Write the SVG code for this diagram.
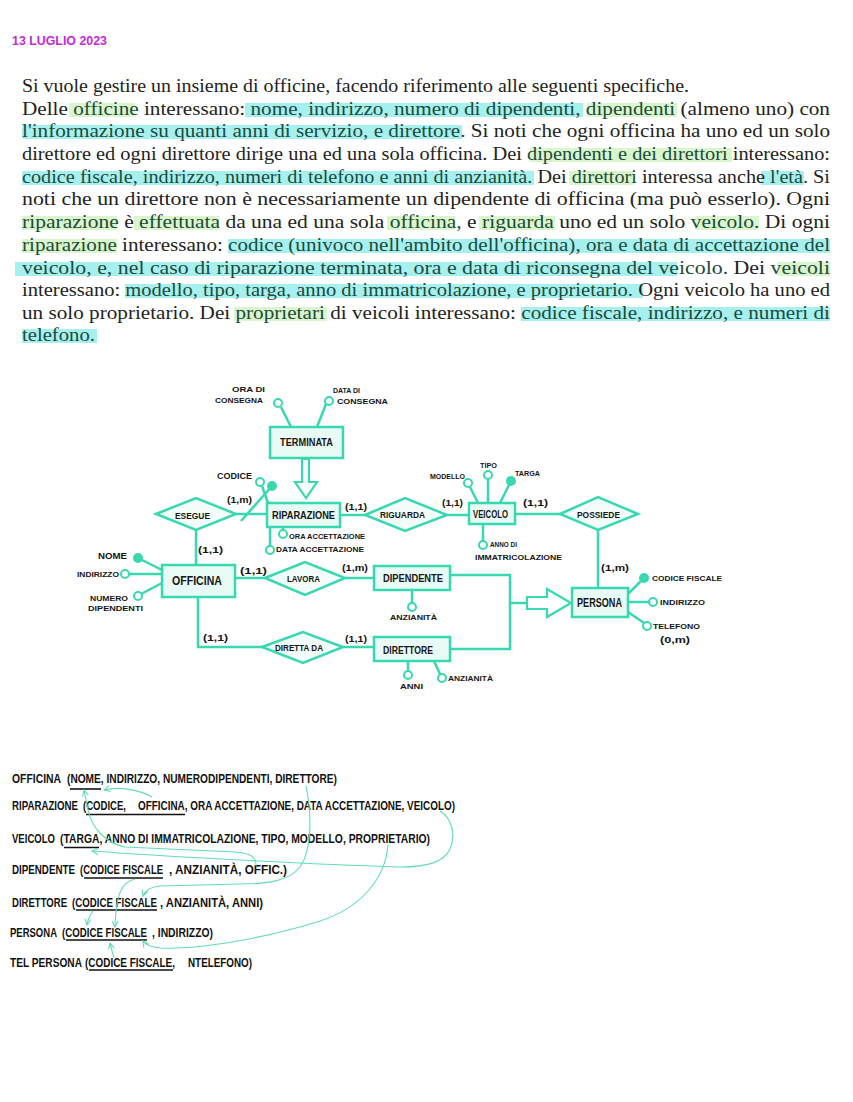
<svg xmlns="http://www.w3.org/2000/svg" width="853" height="1102" viewBox="0 0 853 1102">
<style>
.bg{fill:#ffffff}
.hc{fill:#a6f1ef}
.hg{fill:#daf6cc}
.para{font-family:"Liberation Serif","Times New Roman",serif;font-size:18.5px;fill:#232323}
.para .h{fill:#1c4a3b}
.date{font-family:"Liberation Sans",Arial,sans-serif;font-weight:bold;font-size:12px;fill:#c42ad9}
.ent rect{fill:#e9fbf5;stroke:#38d8b0;stroke-width:2.5}
.rel polygon{fill:#f2fdf9;stroke:#38d8b0;stroke-width:2.5}
.lbl{font-family:"Liberation Sans",Arial,sans-serif;font-weight:bold;fill:#151515}
.conn line,.conn polyline,.conn path{stroke:#38d8b0;stroke-width:2.5;fill:none}
.isa{fill:#ffffff;stroke:#38d8b0;stroke-width:2.2}
.att circle{fill:#ffffff;stroke:#38d8b0;stroke-width:2}
.att circle.key{fill:#38d8b0}
.sch{font-family:"Liberation Sans",Arial,sans-serif;font-weight:bold;font-size:9.6px;fill:#111}
.ul{stroke:#111;stroke-width:1.6}
.fk path{stroke:#62dcb8;stroke-width:1.1;fill:none}
</style>
<defs>
<marker id="fkh" viewBox="0 0 8 8" refX="7" refY="4" markerWidth="8" markerHeight="8" markerUnits="userSpaceOnUse" orient="auto">
<path d="M1,1 L7,4 L1,7" fill="none" stroke="#62dcb8" stroke-width="1.1"/>
</marker>
</defs>
<rect class="bg" x="0" y="0" width="853" height="1102"/>

<text id="date" class="date" x="12" y="45" textLength="95" lengthAdjust="spacingAndGlyphs">13 LUGLIO 2023</text>

<g id="highlights">
<rect class="hg" x="69" y="103" width="66" height="14"/>
<rect class="hc" x="245" y="103" width="338" height="14"/>
<rect class="hg" x="587" y="103" width="90" height="14"/>
<rect class="hc" x="22" y="125" width="440" height="14"/>
<rect class="hg" x="530" y="148" width="202" height="14"/>
<rect class="hc" x="22" y="171" width="512" height="14"/>
<rect class="hg" x="569" y="171" width="65" height="14"/>
<rect class="hc" x="761" y="171" width="43" height="14"/>
<rect class="hg" x="22" y="216" width="95" height="14"/>
<rect class="hg" x="134" y="216" width="85" height="14"/>
<rect class="hg" x="387" y="216" width="68" height="14"/>
<rect class="hg" x="479" y="216" width="76" height="14"/>
<rect class="hg" x="695" y="216" width="64" height="14"/>
<rect class="hg" x="22" y="239" width="95" height="14"/>
<rect class="hc" x="228" y="239" width="602" height="14"/>
<rect class="hc" x="15" y="262" width="662" height="14"/>
<rect class="hg" x="777" y="262" width="53" height="14"/>
<rect class="hc" x="125" y="284" width="518" height="14"/>
<rect class="hg" x="234" y="307" width="93" height="14"/>
<rect class="hc" x="521" y="307" width="309" height="14"/>
<rect class="hc" x="22" y="329" width="75" height="14"/>
</g>

<g id="paragraph" class="para">
<text x="22" y="92" textLength="667" lengthAdjust="spacingAndGlyphs">Si vuole gestire un insieme di officine, facendo riferimento alle seguenti specifiche.</text>
<text x="22" y="115" textLength="808" lengthAdjust="spacingAndGlyphs">Delle <tspan class="h">officine</tspan> interessano: <tspan class="h">nome, indirizzo, numero di dipendenti, dipendenti</tspan> (almeno uno) con</text>
<text x="22" y="137" textLength="808" lengthAdjust="spacingAndGlyphs"><tspan class="h">l'informazione su quanti anni di servizio, e direttore.</tspan> Si noti che ogni officina ha uno ed un solo</text>
<text x="22" y="160" textLength="808" lengthAdjust="spacingAndGlyphs">direttore ed ogni direttore dirige una ed una sola officina. Dei <tspan class="h">dipendenti e dei direttori</tspan> interessano:</text>
<text x="22" y="183" textLength="808" lengthAdjust="spacingAndGlyphs"><tspan class="h">codice fiscale, indirizzo, numeri di telefono e anni di anzianità.</tspan> Dei <tspan class="h">direttori</tspan> interessa anche <tspan class="h">l'età.</tspan> Si</text>
<text x="22" y="205" textLength="808" lengthAdjust="spacingAndGlyphs">noti che un direttore non è necessariamente un dipendente di officina (ma può esserlo). Ogni</text>
<text x="22" y="228" textLength="808" lengthAdjust="spacingAndGlyphs"><tspan class="h">riparazione</tspan> è <tspan class="h">effettuata</tspan> da una ed una sola <tspan class="h">officina,</tspan> e <tspan class="h">riguarda</tspan> uno ed un solo <tspan class="h">veicolo.</tspan> Di ogni</text>
<text x="22" y="251" textLength="808" lengthAdjust="spacingAndGlyphs"><tspan class="h">riparazione</tspan> interessano: <tspan class="h">codice (univoco nell'ambito dell'officina), ora e data di accettazione del</tspan></text>
<text x="22" y="274" textLength="808" lengthAdjust="spacingAndGlyphs"><tspan class="h">veicolo, e, nel caso di riparazione terminata, ora e data di riconsegna del veicolo.</tspan> Dei <tspan class="h">veicoli</tspan></text>
<text x="22" y="296" textLength="808" lengthAdjust="spacingAndGlyphs">interessano: <tspan class="h">modello, tipo, targa, anno di immatricolazione, e proprietario.</tspan> Ogni veicolo ha uno ed</text>
<text x="22" y="319" textLength="808" lengthAdjust="spacingAndGlyphs">un solo proprietario. Dei <tspan class="h">proprietari</tspan> di veicoli interessano: <tspan class="h">codice fiscale, indirizzo, e numeri di</tspan></text>
<text x="22" y="341" textLength="73" lengthAdjust="spacingAndGlyphs"><tspan class="h">telefono.</tspan></text>
</g>

<g id="connectors" class="conn">
<line x1="281" y1="407" x2="291" y2="427"/>
<line x1="326" y1="404" x2="317" y2="427"/>
<line x1="262" y1="486" x2="268" y2="503"/>
<line x1="272" y1="486" x2="241" y2="521"/>
<line x1="283" y1="527" x2="283" y2="530"/>
<line x1="270" y1="527" x2="270" y2="546"/>
<line x1="470" y1="487" x2="478" y2="503"/>
<line x1="488" y1="479" x2="488" y2="503"/>
<line x1="511" y1="481" x2="500" y2="503"/>
<line x1="483" y1="524" x2="483" y2="541"/>
<line x1="138" y1="558" x2="162" y2="570"/>
<line x1="129" y1="574" x2="162" y2="574"/>
<line x1="141" y1="594" x2="162" y2="583"/>
<line x1="412" y1="590" x2="412" y2="603"/>
<line x1="408" y1="661" x2="408" y2="671"/>
<line x1="434" y1="661" x2="440" y2="674"/>
<line x1="628" y1="594" x2="644" y2="578"/>
<line x1="628" y1="602" x2="649" y2="602"/>
<line x1="628" y1="612" x2="644" y2="623"/>
<line x1="236" y1="514" x2="267" y2="514"/>
<line x1="196" y1="530" x2="196" y2="565"/>
<line x1="340" y1="515" x2="365" y2="515"/>
<line x1="447" y1="515" x2="469" y2="515"/>
<line x1="515" y1="514" x2="560" y2="514"/>
<line x1="598" y1="530" x2="598" y2="588"/>
<line x1="235" y1="578" x2="265" y2="578"/>
<line x1="345" y1="578" x2="374" y2="578"/>
<polyline points="198,597 198,647 262,647"/>
<line x1="343" y1="647" x2="374" y2="647"/>
<polyline points="450,575 510,575 510,649 450,649"/>
<line x1="510" y1="603" x2="527" y2="603"/>
<polygon class="isa" points="302,459 302,482 295,482 306,498 317,482 309,482 309,459"/>
<polygon class="isa" points="527,597 547,597 547,589 571,603 547,617 547,609 527,609"/>
</g>

<g id="cardinalities" class="lbl" font-size="9.5">
<text x="227" y="503" textLength="25" lengthAdjust="spacingAndGlyphs">(1,m)</text>
<text x="198" y="553" textLength="25" lengthAdjust="spacingAndGlyphs">(1,1)</text>
<text x="345" y="510" textLength="22" lengthAdjust="spacingAndGlyphs">(1,1)</text>
<text x="442" y="506" textLength="21" lengthAdjust="spacingAndGlyphs">(1,1)</text>
<text x="523" y="506" textLength="25" lengthAdjust="spacingAndGlyphs">(1,1)</text>
<text x="601" y="571" textLength="28" lengthAdjust="spacingAndGlyphs">(1,m)</text>
<text x="240" y="574" textLength="27" lengthAdjust="spacingAndGlyphs">(1,1)</text>
<text x="342" y="571" textLength="26" lengthAdjust="spacingAndGlyphs">(1,m)</text>
<text x="203" y="641" textLength="25" lengthAdjust="spacingAndGlyphs">(1,1)</text>
<text x="345" y="642" textLength="22" lengthAdjust="spacingAndGlyphs">(1,1)</text>
</g>

<g id="terminata" class="ent"><rect x="270" y="427" width="73" height="31"/><text class="lbl" font-size="10" x="280" y="446" textLength="53" lengthAdjust="spacingAndGlyphs">TERMINATA</text></g>
<g id="riparazione" class="ent"><rect x="267" y="503" width="73" height="24"/><text class="lbl" font-size="10" x="272" y="519" textLength="63" lengthAdjust="spacingAndGlyphs">RIPARAZIONE</text></g>
<g id="veicolo" class="ent"><rect x="469" y="503" width="46" height="21"/><text class="lbl" font-size="10" x="473" y="517.5" textLength="35" lengthAdjust="spacingAndGlyphs">VEICOLO</text></g>
<g id="persona" class="ent"><rect x="572" y="588" width="56" height="29"/><text class="lbl" font-size="12" x="577" y="606.5" textLength="45" lengthAdjust="spacingAndGlyphs">PERSONA</text></g>
<g id="officina" class="ent"><rect x="162" y="565" width="73" height="32"/><text class="lbl" font-size="12.5" x="172" y="585" textLength="50" lengthAdjust="spacingAndGlyphs">OFFICINA</text></g>
<g id="dipendente" class="ent"><rect x="374" y="566" width="76" height="24"/><text class="lbl" font-size="10.5" x="383" y="582" textLength="60" lengthAdjust="spacingAndGlyphs">DIPENDENTE</text></g>
<g id="direttore" class="ent"><rect x="374" y="637" width="76" height="24"/><text class="lbl" font-size="11.5" x="383" y="653.5" textLength="50" lengthAdjust="spacingAndGlyphs">DIRETTORE</text></g>

<g id="esegue" class="rel"><polygon points="156,514 196,498 236,514 196,530"/><text class="lbl" font-size="9" x="175" y="518.5" textLength="35" lengthAdjust="spacingAndGlyphs">ESEGUE</text></g>
<g id="riguarda" class="rel"><polygon points="365,515 405,498 447,515 405,531"/><text class="lbl" font-size="9.5" x="380" y="517.5" textLength="45" lengthAdjust="spacingAndGlyphs">RIGUARDA</text></g>
<g id="possiede" class="rel"><polygon points="560,514 598,497 638,514 598,530"/><text class="lbl" font-size="9.5" x="577" y="517.5" textLength="43" lengthAdjust="spacingAndGlyphs">POSSIEDE</text></g>
<g id="lavora" class="rel"><polygon points="265,578 305,562 345,578 305,595"/><text class="lbl" font-size="9.5" x="287" y="581.5" textLength="33" lengthAdjust="spacingAndGlyphs">LAVORA</text></g>
<g id="diretta-da" class="rel"><polygon points="262,647 303,632 343,647 303,663"/><text class="lbl" font-size="8.5" x="275" y="650.5" textLength="48" lengthAdjust="spacingAndGlyphs">DIRETTA DA</text></g>

<g id="att-ora-consegna" class="att"><circle cx="278" cy="403" r="4"/><text class="lbl" font-size="8" x="232" y="392" textLength="33" lengthAdjust="spacingAndGlyphs">ORA DI</text><text class="lbl" font-size="8" x="215" y="403" textLength="48" lengthAdjust="spacingAndGlyphs">CONSEGNA</text></g>
<g id="att-data-consegna" class="att"><circle cx="329" cy="401" r="4"/><text class="lbl" font-size="7" x="333" y="393" textLength="27" lengthAdjust="spacingAndGlyphs">DATA DI</text><text class="lbl" font-size="8" x="337" y="404" textLength="51" lengthAdjust="spacingAndGlyphs">CONSEGNA</text></g>
<g id="att-codice" class="att"><circle cx="260" cy="482" r="4"/><circle class="key" cx="272" cy="486" r="4"/><text class="lbl" font-size="9" x="217" y="478.5" textLength="35" lengthAdjust="spacingAndGlyphs">CODICE</text></g>
<g id="att-ora-accettazione" class="att"><circle cx="283" cy="534" r="4"/><text class="lbl" font-size="7.2" x="289" y="539" textLength="76" lengthAdjust="spacingAndGlyphs">ORA ACCETTAZIONE</text></g>
<g id="att-data-accettazione" class="att"><circle cx="270" cy="550" r="4"/><text class="lbl" font-size="7.5" x="276" y="552" textLength="88" lengthAdjust="spacingAndGlyphs">DATA ACCETTAZIONE</text></g>
<g id="att-modello" class="att"><circle cx="468" cy="483" r="4"/><text class="lbl" font-size="7" x="430" y="479" textLength="35" lengthAdjust="spacingAndGlyphs">MODELLO</text></g>
<g id="att-tipo" class="att"><circle cx="488" cy="475" r="4"/><text class="lbl" font-size="7.5" x="480" y="468" textLength="17" lengthAdjust="spacingAndGlyphs">TIPO</text></g>
<g id="att-targa" class="att"><circle class="key" cx="511" cy="481" r="4"/><text class="lbl" font-size="7" x="515" y="476" textLength="25" lengthAdjust="spacingAndGlyphs">TARGA</text></g>
<g id="att-anno" class="att"><circle cx="483" cy="545" r="4"/><text class="lbl" font-size="6.5" x="490" y="547" textLength="27" lengthAdjust="spacingAndGlyphs">ANNO DI</text><text class="lbl" font-size="7.5" x="475" y="560" textLength="87" lengthAdjust="spacingAndGlyphs">IMMATRICOLAZIONE</text></g>
<g id="att-nome" class="att"><circle class="key" cx="138" cy="558" r="4"/><text class="lbl" font-size="8.5" x="98" y="559" textLength="29" lengthAdjust="spacingAndGlyphs">NOME</text></g>
<g id="att-indirizzo-off" class="att"><circle cx="125" cy="574" r="4"/><text class="lbl" font-size="7.5" x="77" y="576.5" textLength="42" lengthAdjust="spacingAndGlyphs">INDIRIZZO</text></g>
<g id="att-numero-dip" class="att"><circle cx="138" cy="596" r="4"/><text class="lbl" font-size="7.5" x="90" y="601" textLength="38" lengthAdjust="spacingAndGlyphs">NUMERO</text><text class="lbl" font-size="7.5" x="88" y="611" textLength="55" lengthAdjust="spacingAndGlyphs">DIPENDENTI</text></g>
<g id="att-anzianita-dip" class="att"><circle cx="412" cy="607" r="4"/><text class="lbl" font-size="8" x="390" y="620" textLength="47" lengthAdjust="spacingAndGlyphs">ANZIANITÀ</text></g>
<g id="att-anni" class="att"><circle cx="408" cy="675" r="4"/><text class="lbl" font-size="8" x="400" y="689" textLength="23" lengthAdjust="spacingAndGlyphs">ANNI</text></g>
<g id="att-anzianita-dir" class="att"><circle cx="442" cy="678" r="4"/><text class="lbl" font-size="8" x="448" y="681" textLength="45" lengthAdjust="spacingAndGlyphs">ANZIANITÀ</text></g>
<g id="att-codice-fiscale" class="att"><circle class="key" cx="644" cy="578" r="4"/><text class="lbl" font-size="8" x="652" y="581" textLength="70" lengthAdjust="spacingAndGlyphs">CODICE FISCALE</text></g>
<g id="att-indirizzo-pers" class="att"><circle cx="653" cy="602" r="4"/><text class="lbl" font-size="8" x="660" y="605" textLength="45" lengthAdjust="spacingAndGlyphs">INDIRIZZO</text></g>
<g id="att-telefono" class="att"><circle cx="647" cy="626" r="4"/><text class="lbl" font-size="8" x="653" y="629" textLength="47" lengthAdjust="spacingAndGlyphs">TELEFONO</text><text class="lbl" font-size="9" x="660" y="643" textLength="30" lengthAdjust="spacingAndGlyphs">(0,m)</text></g>

<g id="schema" class="sch">
<g id="rel-officina">
<text transform="translate(12,783) scale(1,1.3)" textLength="49" lengthAdjust="spacingAndGlyphs">OFFICINA</text>
<text transform="translate(67,783) scale(1,1.3)" textLength="270" lengthAdjust="spacingAndGlyphs">(NOME, INDIRIZZO, NUMERODIPENDENTI, DIRETTORE)</text>
<line class="ul" x1="70" y1="789" x2="101" y2="789"/>
</g>
<g id="rel-riparazione">
<text transform="translate(12,810) scale(1,1.3)" textLength="66" lengthAdjust="spacingAndGlyphs">RIPARAZIONE</text>
<text transform="translate(83,810) scale(1,1.3)" textLength="43" lengthAdjust="spacingAndGlyphs">(CODICE,</text>
<text transform="translate(138,810) scale(1,1.3)" textLength="317" lengthAdjust="spacingAndGlyphs">OFFICINA, ORA ACCETTAZIONE, DATA ACCETTAZIONE, VEICOLO)</text>
<line class="ul" x1="86" y1="814.5" x2="185" y2="814.5"/>
</g>
<g id="rel-veicolo">
<text transform="translate(12,843) scale(1,1.3)" textLength="43" lengthAdjust="spacingAndGlyphs">VEICOLO</text>
<text transform="translate(60,843) scale(1,1.3)" textLength="370" lengthAdjust="spacingAndGlyphs">(TARGA, ANNO DI IMMATRICOLAZIONE, TIPO, MODELLO, PROPRIETARIO)</text>
<line class="ul" x1="64" y1="847.5" x2="99" y2="847.5"/>
</g>
<g id="rel-dipendente">
<text transform="translate(12,874) scale(1,1.3)" textLength="63" lengthAdjust="spacingAndGlyphs">DIPENDENTE</text>
<text transform="translate(80,874) scale(1,1.3)" textLength="83" lengthAdjust="spacingAndGlyphs">(CODICE FISCALE</text>
<text transform="translate(169,874) scale(1,1.3)" textLength="118" lengthAdjust="spacingAndGlyphs">, ANZIANITÀ, OFFIC.)</text>
<line class="ul" x1="84" y1="878" x2="163" y2="878"/>
</g>
<g id="rel-direttore">
<text transform="translate(12,907) scale(1,1.3)" textLength="55" lengthAdjust="spacingAndGlyphs">DIRETTORE</text>
<text transform="translate(72,907) scale(1,1.3)" textLength="85" lengthAdjust="spacingAndGlyphs">(CODICE FISCALE</text>
<text transform="translate(160,907) scale(1,1.3)" textLength="103" lengthAdjust="spacingAndGlyphs">, ANZIANITÀ, ANNI)</text>
<line class="ul" x1="76" y1="910" x2="157" y2="910"/>
</g>
<g id="rel-persona">
<text transform="translate(10,937) scale(1,1.3)" textLength="47" lengthAdjust="spacingAndGlyphs">PERSONA</text>
<text transform="translate(62,937) scale(1,1.3)" textLength="85" lengthAdjust="spacingAndGlyphs">(CODICE FISCALE</text>
<text transform="translate(152,937) scale(1,1.3)" textLength="61" lengthAdjust="spacingAndGlyphs">, INDIRIZZO)</text>
<line class="ul" x1="66" y1="940" x2="147" y2="940"/>
</g>
<g id="rel-telpersona">
<text transform="translate(10,967) scale(1,1.3)" textLength="72" lengthAdjust="spacingAndGlyphs">TEL PERSONA</text>
<text transform="translate(85,967) scale(1,1.3)" textLength="90" lengthAdjust="spacingAndGlyphs">(CODICE FISCALE,</text>
<text transform="translate(188,967) scale(1,1.3)" textLength="64" lengthAdjust="spacingAndGlyphs">NTELEFONO)</text>
<line class="ul" x1="89" y1="970" x2="173" y2="970"/>
</g>
</g>

<g id="foreign-keys" class="fk">
<path d="M152,797 C140,790 120,786 104,790" marker-end="url(#fkh)"/>
<path d="M256,866 C257,857 250,853 235,852 L125,847 C105,843 92,828 88,810 C86,800 85,794 84,790" marker-end="url(#fkh)"/>
<path d="M440,811 C452,818 456,835 450,849 C444,862 428,867 400,867 C300,864 160,856 92,851" marker-end="url(#fkh)"/>
<path d="M306,786 C312,815 312,850 300,867 C290,880 270,884 240,884 L160,886 C150,887 145,890 143,896" marker-end="url(#fkh)"/>
<path d="M388,845 C385,880 360,908 320,921 C270,937 200,950 160,948 C150,947 145,944 143,941" marker-end="url(#fkh)"/>
<path d="M135,879 C122,882 116,893 115,927" marker-end="url(#fkh)"/>
<path d="M93,911 C90,915 88,918 87,925" marker-end="url(#fkh)"/>
<path d="M114,958 C112,951 111,947 110,943" marker-end="url(#fkh)"/>
</g>
</svg>
